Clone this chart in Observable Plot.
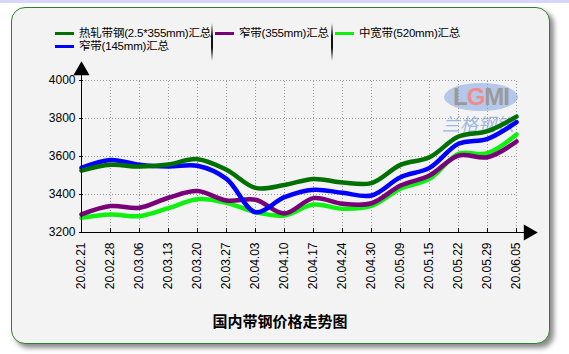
<!DOCTYPE html>
<html><head><meta charset="utf-8">
<script src="https://cdn.jsdelivr.net/npm/d3@7"></script>
<script src="https://cdn.jsdelivr.net/npm/@observablehq/plot@0.6"></script>
<style>
html,body{margin:0;padding:0;background:#fff;}
#wrap{position:relative;width:569px;height:354px;overflow:hidden;font-family:"Liberation Sans","Noto Sans CJK SC",sans-serif;}
#strip{position:absolute;left:0;top:0;width:569px;height:3px;background:#d6d6fa;}
#panel{position:absolute;left:11px;top:7px;width:537px;height:335px;border:1px solid #2f7f2f;border-radius:14px;background:#f3f3f3;box-shadow:4px 4px 5px rgba(0,0,0,0.45);}
#chart{position:absolute;left:0;top:0;}
.leg{position:absolute;font-size:11.5px;color:#000;white-space:nowrap;line-height:14px;letter-spacing:-0.2px;font-family:"Liberation Sans","Noto Sans CJK SC",sans-serif;}
.sw{position:absolute;height:3px;width:19px;}
.sep{position:absolute;width:2px;height:38px;top:23px;background:linear-gradient(to bottom,#f3f3f3,#111 35%,#111 65%,#f3f3f3);}
#title{position:absolute;left:0;width:560px;text-align:center;top:311px;font-size:15px;line-height:20px;font-weight:bold;font-family:"Noto Sans CJK SC",sans-serif;}
#logo{position:absolute;left:0;top:0;}
</style></head>
<body><div id="wrap">
<div id="strip"></div>
<div id="panel"></div>
<svg id="logo" width="569" height="354">
  <ellipse cx="481" cy="97" rx="37" ry="14" fill="#a9c0e6" opacity="0.85"/>
  <text x="481" y="105" text-anchor="middle" font-family="Liberation Sans" font-weight="bold" font-size="24" fill="#9a9a9a" letter-spacing="-1">L<tspan fill="#f08c8c">G</tspan>MI</text>
  <text x="478" y="131" text-anchor="middle" font-family="Noto Sans CJK SC" font-size="18" fill="#9fb8e0" font-style="italic">兰格钢铁</text>
</svg>
<div id="chart"></div>
<div id="legend"></div>
<div id="title">国内带钢价格走势图</div>
</div>
<script>
const dates = ["20.02.21","20.02.28","20.03.06","20.03.13","20.03.20","20.03.27","20.04.03","20.04.10","20.04.17","20.04.24","20.04.30","20.05.09","20.05.15","20.05.22","20.05.29","20.06.05"];
const seriesNames = ["热轧带钢(2.5*355mm)汇总","窄带(355mm)汇总","中宽带(520mm)汇总","窄带(145mm)汇总"];
const seriesColors = ["#007000","#780078","#10f010","#0000ff"];
const hotRolled = [3526,3556,3547,3558,3586,3530,3435,3450,3482,3463,3460,3556,3596,3705,3733,3810];
const narrow355 = [3295,3339,3330,3383,3418,3368,3372,3300,3381,3351,3354,3447,3500,3605,3596,3679];
const medium520 = [3277,3295,3286,3328,3375,3356,3307,3290,3347,3325,3340,3430,3482,3614,3617,3716];
const narrow145 = [3540,3582,3556,3547,3551,3482,3307,3386,3425,3409,3395,3491,3540,3667,3693,3781];
const yTicks = [3200,3400,3600,3800,4000];

const allSeries = [hotRolled, narrow355, medium520, narrow145];
const rows = [];
allSeries.forEach((vals, si) => vals.forEach((v, i) => rows.push({date: dates[i], value: v, series: seriesNames[si]})));
const order = [2,1,3,0];

const plot = Plot.plot({
  width: 569, height: 354,
  marginLeft: 79, marginRight: 52, marginTop: 80, marginBottom: 122,
  style: {background: "transparent", fontSize: "12px", fontFamily: "Liberation Sans, sans-serif", color: "#000"},
  x: {type: "point", domain: dates, padding: 0},
  y: {domain: [3200, 4000]},
  marks: [
    Plot.ruleX(dates, {y1: 3200, y2: 4000, stroke: "#999", strokeDasharray: "1,2", strokeWidth: 1}),
    Plot.ruleY(yTicks.slice(1), {stroke: "#999", strokeDasharray: "1,2", strokeWidth: 1}),
    ...order.map(si => Plot.line(rows.filter(r => r.series === seriesNames[si]), {
      x: "date", y: "value", stroke: seriesColors[si], strokeWidth: 4.5, curve: "catmull-rom"
    })),
    Plot.ruleY([3200], {stroke: "#000", strokeWidth: 1}),
    Plot.ruleY([3200], {stroke: "#000", strokeWidth: 1, dx: 10}),
    Plot.ruleX([dates[0]], {y1: 3200, y2: 4000, stroke: "#000", strokeWidth: 1}),
    Plot.ruleX([dates[0]], {y1: 3200, y2: 4000, stroke: "#000", strokeWidth: 1, dy: -6}),
    Plot.dot([dates[0]], {x: d => d, y: 4000, symbol: "triangle", r: 6, fill: "#000", stroke: "none", dy: -10}),
    Plot.dot([dates[dates.length-1]], {x: d => d, y: 3200, symbol: "triangle", r: 6, fill: "#000", stroke: "none", rotate: 90, dx: 12}),
    Plot.axisY({ticks: yTicks, tickSize: 4, dx: 4, tickPadding: 4, label: null, tickFormat: d => String(d)}),
    Plot.axisX({tickSize: 4, dy: -4, tickPadding: 10, tickRotate: -90, label: null})
  ]
});
document.getElementById("chart").appendChild(plot);

const leg = document.getElementById("legend");
const items = [
  {si: 0, x: 55, y: 33},
  {si: 1, x: 215, y: 33},
  {si: 2, x: 335, y: 33},
  {si: 3, x: 55, y: 46}
];
items.forEach(it => {
  const sw = document.createElement("div");
  sw.className = "sw"; sw.style.left = it.x + "px"; sw.style.top = (it.y - 1) + "px"; sw.style.background = seriesColors[it.si];
  leg.appendChild(sw);
  const t = document.createElement("div");
  t.className = "leg"; t.style.left = (it.x + 24) + "px"; t.style.top = (it.y - 7) + "px"; t.textContent = seriesNames[it.si];
  leg.appendChild(t);
});
[211, 331].forEach(x => {
  const s = document.createElement("div"); s.className = "sep"; s.style.left = x + "px"; leg.appendChild(s);
});
</script>
</body></html>
